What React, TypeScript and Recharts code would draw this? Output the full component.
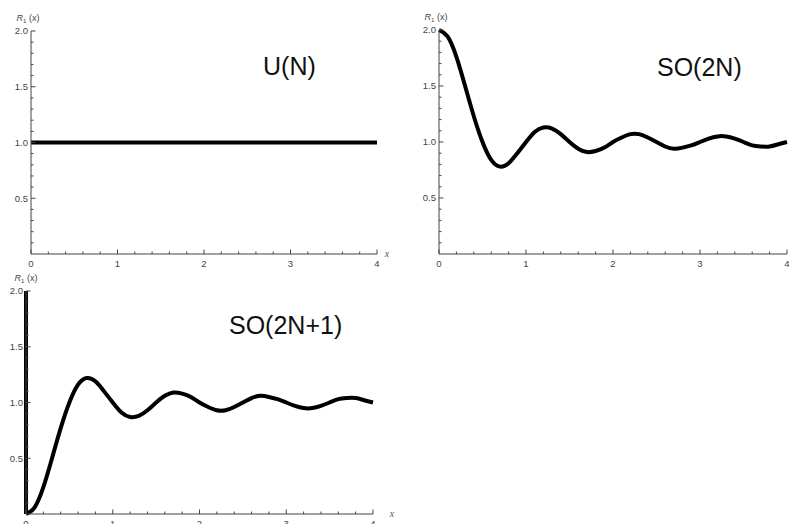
import { LineChart, Line, XAxis, YAxis } from "recharts";

const xValues = [
  0, 0.1, 0.2, 0.3, 0.4, 0.5, 0.6, 0.7, 0.8, 0.9, 1, 1.1, 1.2, 1.3, 1.4, 1.5,
  1.6, 1.7, 1.8, 1.9, 2, 2.1, 2.2, 2.3, 2.4, 2.5, 2.6, 2.7, 2.8, 2.9, 3, 3.1,
  3.2, 3.3, 3.4, 3.5, 3.6, 3.7, 3.8, 3.9, 4,
];

// U(N): flat density
const unitaryX = [0, 4];
const unitaryValues = [1, 1];

// SO(2N)
const so2nValues = [
  2.0, 1.94, 1.76, 1.5, 1.23, 1.0, 0.84, 0.78, 0.81, 0.9, 1.0, 1.09, 1.13,
  1.12, 1.07, 1.0, 0.94, 0.91, 0.92, 0.95, 1.0, 1.04, 1.07, 1.07, 1.04, 1.0,
  0.96, 0.94, 0.95, 0.97, 1.0, 1.03, 1.05, 1.05, 1.03, 1.0, 0.97, 0.96, 0.96,
  0.98, 1.0,
];

// SO(2N+1)
const so2n1Values = [
  0.0, 0.06, 0.24, 0.5, 0.77, 1.0, 1.16, 1.22, 1.19, 1.1, 1.0, 0.91, 0.87,
  0.88, 0.93, 1.0, 1.06, 1.09, 1.08, 1.05, 1.0, 0.96, 0.93, 0.93, 0.96, 1.0,
  1.04, 1.06, 1.05, 1.03, 1.0, 0.97, 0.95, 0.95, 0.97, 1.0, 1.03, 1.04, 1.04,
  1.02, 1.0,
];

// spike at the origin for SO(2N+1)
const spikeX = [0, 0];
const spikeValues = [0, 2];

const xTicks = [
  0, 0.2, 0.4, 0.6, 0.8, 1, 1.2, 1.4, 1.6, 1.8, 2, 2.2, 2.4, 2.6, 2.8, 3, 3.2,
  3.4, 3.6, 3.8, 4,
];
const yTicks = [
  0.1, 0.2, 0.3, 0.4, 0.5, 0.6, 0.7, 0.8, 0.9, 1.0, 1.1, 1.2, 1.3, 1.4, 1.5,
  1.6, 1.7, 1.8, 1.9, 2.0,
];

const AXIS = "#444";
const LABEL = "#444";
const FONT = "'Liberation Sans', Arial, sans-serif";

const zip = (xs: number[], ys: number[]) => xs.map((x, i) => ({ x, r: ys[i] }));

function XTick(props: any) {
  const { x, y, payload } = props;
  const v = Number(payload.value);
  const major = Math.abs(v - Math.round(v)) < 1e-6;
  return (
    <g>
      <line x1={x} x2={x} y1={y} y2={y - (major ? 4.5 : 2.5)} stroke={AXIS} strokeWidth={1} />
      {major && (
        <text x={x} y={y + 12.5} textAnchor="middle" fontSize={9.5} fontFamily={FONT} fill={LABEL}>
          {Math.round(v)}
        </text>
      )}
    </g>
  );
}

function YTick(props: any) {
  const { x, y, payload } = props;
  const v = Number(payload.value);
  const major = Math.abs(v * 2 - Math.round(v * 2)) < 1e-6;
  return (
    <g>
      <line x1={x} x2={x + (major ? 4.5 : 2.5)} y1={y} y2={y} stroke={AXIS} strokeWidth={1} />
      {major && (
        <text x={x - 3} y={y} dy="0.35em" textAnchor="end" fontSize={9.5} fontFamily={FONT} fill={LABEL}>
          {v.toFixed(1)}
        </text>
      )}
    </g>
  );
}

type Series = { data: { x: number; r: number }[]; curve: "linear" | "natural" };

type PanelProps = {
  left: number;
  top: number;
  width: number;
  height: number;
  margin: { top: number; right: number; bottom: number; left: number };
  yAxisWidth: number;
  xAxisHeight: number;
  series: Series[];
  title: string;
  titleLeft: number;
  titleTop: number;
  xLabelDx?: number;
  yLabelDx: number;
};

function Panel(p: PanelProps) {
  return (
    <div style={{ position: "absolute", left: p.left, top: p.top }}>
      <LineChart width={p.width} height={p.height} margin={p.margin}>
        <XAxis
          dataKey="x"
          type="number"
          domain={[0, 4]}
          ticks={xTicks}
          interval={0}
          tick={(t: any) => <XTick {...t} />}
          tickLine={false}
          tickSize={0}
          tickMargin={0}
          height={p.xAxisHeight}
          axisLine={{ stroke: AXIS, strokeWidth: 1 }}
          allowDecimals
          label={
            p.xLabelDx === undefined
              ? undefined
              : (lp: any) => {
                  const vb = lp.viewBox;
                  return (
                    <text
                      x={vb.x + vb.width + p.xLabelDx!}
                      y={vb.y + 3}
                      fontSize={10}
                      fontStyle="italic"
                      fontFamily="'Liberation Serif', serif"
                      fill="#555"
                      textAnchor="middle"
                    >
                      x
                    </text>
                  );
                }
          }
        />
        <YAxis
          type="number"
          domain={[0, 2]}
          ticks={yTicks}
          interval={0}
          tick={(t: any) => <YTick {...t} />}
          tickLine={false}
          tickSize={0}
          tickMargin={0}
          width={p.yAxisWidth}
          axisLine={{ stroke: AXIS, strokeWidth: 1 }}
          label={(lp: any) => {
            const vb = lp.viewBox;
            return (
              <text
                x={vb.x + vb.width + p.yLabelDx}
                y={vb.y - 10}
                textAnchor="middle"
                fontSize={9}
                fontFamily={FONT}
                fill={LABEL}
              >
                <tspan fontStyle="italic">R</tspan>
                <tspan fontSize={6} dy={2}>1</tspan>
                <tspan dy={-2}> (x)</tspan>
              </text>
            );
          }}
        />
        {p.series.map((s, i) => (
          <Line
            key={i}
            data={s.data}
            dataKey="r"
            type={s.curve}
            stroke="#000"
            strokeWidth={4}
            dot={false}
            activeDot={false}
            isAnimationActive={false}
          />
        ))}
      </LineChart>
      <div
        style={{
          position: "absolute",
          left: p.titleLeft,
          top: p.titleTop,
          fontFamily: FONT,
          fontSize: 25,
          lineHeight: "25px",
          color: "#111",
          whiteSpace: "nowrap",
        }}
      >
        {p.title}
      </div>
    </div>
  );
}

export default function App() {
  return (
    <div
      style={{
        position: "absolute",
        left: 0,
        top: 0,
        width: 801,
        height: 524,
        overflow: "hidden",
        background: "#fff",
      }}
    >
      <Panel
        left={0}
        top={0}
        width={400}
        height={270}
        margin={{ top: 31, right: 23, bottom: 1, left: 0 }}
        yAxisWidth={31}
        xAxisHeight={15}
        series={[{ data: zip(unitaryX, unitaryValues), curve: "linear" }]}
        title="U(N)"
        titleLeft={263}
        titleTop={54}
        xLabelDx={10}
        yLabelDx={-3}
      />
      <Panel
        left={400}
        top={0}
        width={401}
        height={270}
        margin={{ top: 30, right: 14, bottom: 1, left: 0 }}
        yAxisWidth={39}
        xAxisHeight={15}
        series={[{ data: zip(xValues, so2nValues), curve: "natural" }]}
        title="SO(2N)"
        titleLeft={257}
        titleTop={55}
        yLabelDx={-3}
      />
      <Panel
        left={0}
        top={260}
        width={400}
        height={270}
        margin={{ top: 31, right: 27, bottom: 6, left: 0 }}
        yAxisWidth={26}
        xAxisHeight={10}
        series={[
          { data: zip(spikeX, spikeValues), curve: "linear" },
          { data: zip(xValues, so2n1Values), curve: "natural" },
        ]}
        title="SO(2N+1)"
        titleLeft={229}
        titleTop={53}
        xLabelDx={19}
        yLabelDx={0}
      />
    </div>
  );
}
